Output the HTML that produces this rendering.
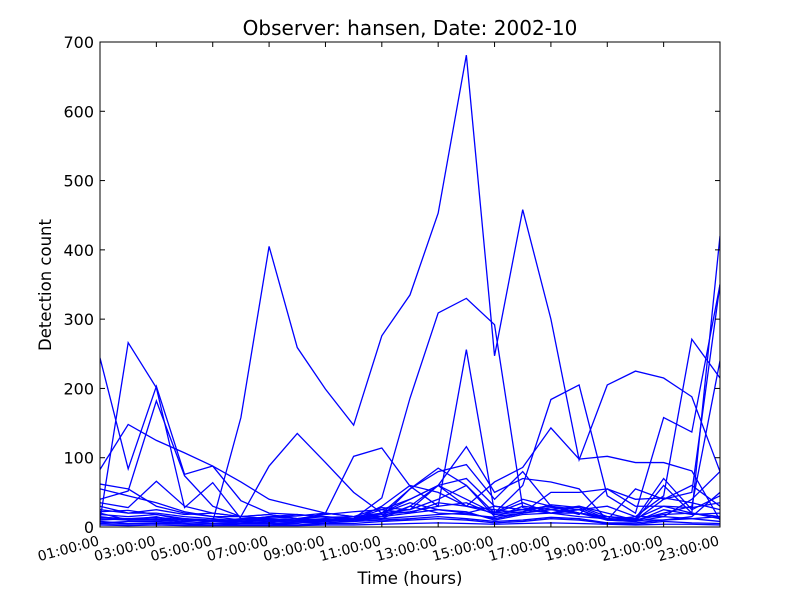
<!DOCTYPE html>
<html><head><meta charset="utf-8"><style>
body{margin:0;background:#fff;}
svg text{font-family:"DejaVu Sans","Liberation Sans",sans-serif;}
</style></head><body>
<svg id="chart" width="800" height="600">
<rect width="800" height="600" fill="#fff"/>
<text x="410" y="35" font-size="20" text-anchor="middle">Observer: hansen, Date: 2002-10</text>
<g id="plot"></g>
<g id="axes"></g>
<text x="410" y="584" font-size="16.5" text-anchor="middle">Time (hours)</text>
<text x="51" y="285" font-size="16.5" text-anchor="middle" transform="rotate(-90 51 285)">Detection count</text>
</svg>
<script>
const hours = [1,2,3,4,5,6,7,8,9,10,11,12,13,14,15,16,17,18,19,20,21,22,23];
const xTickLabels = ["01:00:00","03:00:00","05:00:00","07:00:00","09:00:00","11:00:00","13:00:00","15:00:00","17:00:00","19:00:00","21:00:00","23:00:00"];
const yTicks = [0,100,200,300,400,500,600,700];
const s1 = [20,10,15,5,8,158,405,259,199,147,276,335,453,681,247,458,300,97,205,225,215,188,80];
const s2 = [62,55,30,20,15,10,15,12,10,12,42,186,309,330,292,28,20,15,12,10,40,50,350];
const s3 = [244,84,203,76,88,38,20,18,15,12,20,25,60,30,20,25,30,20,12,10,20,30,240];
const s4 = [10,266,201,28,64,12,10,8,12,10,15,55,80,90,40,80,30,20,15,10,60,20,420];
const s5 = [83,148,125,107,88,65,40,30,20,15,12,30,60,70,30,25,20,25,30,15,15,40,80];
const s6 = [40,52,182,74,30,15,12,10,8,12,25,40,60,116,50,70,65,55,10,15,45,271,215];
const s7 = [30,20,25,18,20,15,88,135,93,50,20,55,85,60,20,35,20,30,20,10,10,15,50];
const s8 = [15,10,12,8,10,10,12,10,20,102,114,59,30,256,21,40,30,25,10,55,40,60,30];
const s9 = [25,20,20,15,12,8,10,8,8,10,30,60,50,30,65,86,143,98,102,93,93,81,10];
const s10 = [10,12,10,8,10,10,10,8,10,15,20,40,60,40,20,60,184,205,45,20,158,137,350];
const s11 = [55,45,35,22,15,15,18,12,15,10,20,35,25,20,30,25,30,18,55,30,30,20,15];
const s12 = [35,28,66,30,20,15,18,12,18,22,25,20,35,30,25,20,50,50,55,40,42,35,25];
const s13 = [18,15,18,12,10,10,15,18,14,15,28,25,40,60,15,20,25,30,15,12,70,25,45];
const s14 = [8,5,6,6,5,5,5,5,10,8,15,20,25,22,10,18,20,20,10,8,15,12,8];
const s15 = [12,10,10,12,8,8,6,10,12,10,12,15,18,20,12,20,28,25,10,8,25,18,20];
const s16 = [5,4,5,4,3,4,4,3,5,5,8,10,12,10,6,8,12,10,5,4,8,6,5];
const s17 = [22,24,18,10,8,12,14,16,20,15,15,30,20,18,14,30,25,20,15,12,30,28,35];
const s18 = [3,2,3,2,2,2,2,2,3,3,4,5,6,5,4,5,6,5,4,3,4,4,3];
const s19 = [14,12,14,10,8,6,8,6,8,10,18,22,30,35,18,22,32,28,12,10,18,20,12];
const s20 = [6,8,8,6,5,6,8,6,6,8,10,12,15,12,8,10,14,12,6,6,10,12,15];
const series = [s1,s2,s3,s4,s5,s6,s7,s8,s9,s10,s11,s12,s13,s14,s15,s16,s17,s18,s19,s20];
const L=100,R=720,T=42,B=527;
const xS=h=>L+(h-1)*(R-L)/22;
const yS=v=>B-v*(B-T)/700;
const NS="http://www.w3.org/2000/svg";
const plot=document.getElementById('plot'), axes=document.getElementById('axes');
const clip=document.createElementNS(NS,'clipPath');clip.id='cp';
const cr=document.createElementNS(NS,'rect');cr.setAttribute('x',L);cr.setAttribute('y',T);cr.setAttribute('width',R-L);cr.setAttribute('height',B-T);
clip.appendChild(cr);plot.appendChild(clip);
series.forEach((s,i)=>{
  const p=document.createElementNS(NS,'polyline');
  p.setAttribute('points',s.map((v,j)=>xS(hours[j])+','+yS(v)).join(' '));
  p.setAttribute('fill','none');p.setAttribute('stroke','#0000ff');p.setAttribute('stroke-width','1.3');
  p.setAttribute('clip-path','url(#cp)');
  
  
  plot.appendChild(p);
});
const fr=document.createElementNS(NS,'rect');
fr.setAttribute('x',L);fr.setAttribute('y',T);fr.setAttribute('width',R-L);fr.setAttribute('height',B-T);
fr.setAttribute('fill','none');fr.setAttribute('stroke','#000');


axes.appendChild(fr);
yTicks.forEach(v=>{
  const y=yS(v);
  [[L,L+5],[R,R-5]].forEach(([a,b])=>{const l=document.createElementNS(NS,'line');l.setAttribute('x1',a);l.setAttribute('x2',b);l.setAttribute('y1',y);l.setAttribute('y2',y);l.setAttribute('stroke','#000');axes.appendChild(l);});
  const t=document.createElementNS(NS,'text');t.setAttribute('x',L-6);t.setAttribute('y',y+6);t.setAttribute('font-size','16');t.setAttribute('text-anchor','end');t.textContent=v;
  
  
  axes.appendChild(t);
});
xTickLabels.forEach((lab,i)=>{
  const x=xS(1+2*i);
  [[B,B-5],[T,T+5]].forEach(([a,b])=>{const l=document.createElementNS(NS,'line');l.setAttribute('x1',x);l.setAttribute('x2',x);l.setAttribute('y1',a);l.setAttribute('y2',b);l.setAttribute('stroke','#000');axes.appendChild(l);});
  const t=document.createElementNS(NS,'text');t.setAttribute('x',x);t.setAttribute('y',B+18);t.setAttribute('font-size','14');t.setAttribute('text-anchor','end');
  t.setAttribute('transform','rotate(-15 '+x+' '+(B+18)+')');t.textContent=lab;
  
  
  axes.appendChild(t);
});
</script>
</body></html>
